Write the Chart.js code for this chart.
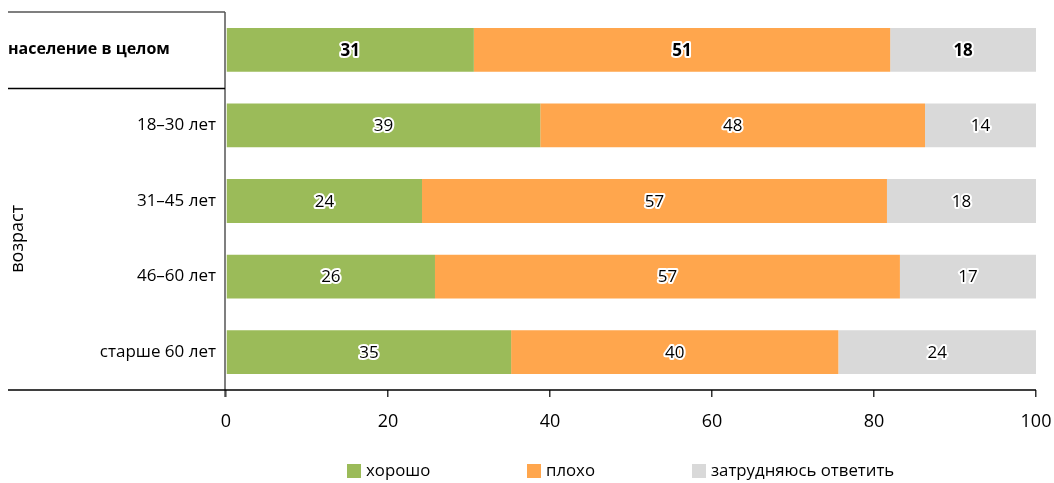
<!DOCTYPE html>
<html><head><meta charset="utf-8">
<script src="https://cdn.jsdelivr.net/npm/chart.js@4"></script>
<style>html,body{margin:0;padding:0;background:#fff}#wrap{width:1054px;height:483px}</style>
</head><body><div id="wrap"><canvas id="c" width="1054" height="483"></canvas></div>
<script>
const categories = ['население в целом', '18–30 лет', '31–45 лет', '46–60 лет', 'старше 60 лет'];
const seriesNames = ['хорошо', 'плохо', 'затрудняюсь ответить'];
const good = [30.6, 38.8, 24.2, 25.8, 35.2];
const bad = [51.4, 47.5, 57.4, 57.4, 40.4];
const hard = [18.0, 13.7, 18.4, 16.8, 24.4];
const groupLabel = 'возраст';
const xTicks = [0, 20, 40, 60, 80, 100];

const FONT = '"Open Sans", "Noto Sans", sans-serif';
const colors = ['#9BBB59', '#FFA64D', '#D9D9D9'];

const overlay = {
  id: 'overlay',
  afterDatasetsDraw(chart) {
    const ctx = chart.ctx;
    ctx.save();
    chart.data.datasets.forEach((ds, di) => {
      const meta = chart.getDatasetMeta(di);
      meta.data.forEach((el, i) => {
        const v = ds.data[i];
        const cx = (el.x + el.base) / 2;
        ctx.font = (i === 0 ? 'bold ' : '500 ') + '17px ' + FONT;
        ctx.textAlign = 'center';
        ctx.textBaseline = 'middle';
        ctx.lineJoin = 'round';
        ctx.lineWidth = 4;
        ctx.strokeStyle = '#fff';
        const t = String(Math.round(v));
        ctx.strokeText(t, cx, el.y + 1);
        ctx.fillStyle = '#000';
        ctx.fillText(t, cx, el.y + 1);
      });
    });
    ctx.restore();
  },
  afterDraw(chart) {
    const ctx = chart.ctx;
    const ya = chart.scales.y;
    const area = chart.chartArea;
    const leftX = 8;
    ctx.save();
    categories.forEach((c, i) => {
      const y = ya.getPixelForValue(i);
      ctx.fillStyle = '#000';
      ctx.textBaseline = 'middle';
      if (i === 0) {
        ctx.font = 'bold 16px ' + FONT;
        ctx.textAlign = 'left';
        ctx.fillText(c, leftX, y);
      } else {
        ctx.font = '500 17px ' + FONT;
        ctx.textAlign = 'right';
        ctx.fillText(c, area.left - 10, y);
      }
    });
    const gy = (ya.getPixelForValue(0.5) + area.bottom) / 2;
    ctx.translate(18, gy);
    ctx.rotate(-Math.PI / 2);
    ctx.font = '500 18px ' + FONT;
    ctx.textAlign = 'center';
    ctx.textBaseline = 'middle';
    ctx.fillText(groupLabel, 0, 0);
    ctx.setTransform(1, 0, 0, 1, 0, 0);
    const axisX = area.left - 1;
    ctx.strokeStyle = '#555';
    ctx.lineWidth = 1.5;
    ctx.beginPath();
    ctx.moveTo(leftX, area.top);
    ctx.lineTo(axisX, area.top);
    ctx.moveTo(axisX, area.top);
    ctx.lineTo(axisX, area.bottom + 7);
    ctx.stroke();
    ctx.strokeStyle = '#000';
    ctx.beginPath();
    const sep = Math.round(ya.getPixelForValue(0.5)) + 0.5;
    ctx.moveTo(leftX, sep);
    ctx.lineTo(axisX, sep);
    ctx.moveTo(leftX, area.bottom);
    ctx.lineTo(area.right, area.bottom);
    ctx.stroke();
    const lx = [347, 527, 692];
    const ly = 471;
    ctx.font = '500 16.8px ' + FONT;
    ctx.textAlign = 'left';
    ctx.textBaseline = 'middle';
    chart.data.datasets.forEach((ds, i) => {
      ctx.fillStyle = ds.backgroundColor;
      ctx.fillRect(lx[i], ly - 7, 14, 14);
      ctx.fillStyle = '#000';
      ctx.fillText(ds.label, lx[i] + 19, ly);
    });
    ctx.restore();
  }
};

new Chart(document.getElementById('c'), {
  type: 'bar',
  data: {
    labels: categories,
    datasets: [
      { label: seriesNames[0], data: good, backgroundColor: colors[0] },
      { label: seriesNames[1], data: bad, backgroundColor: colors[1] },
      { label: seriesNames[2], data: hard, backgroundColor: colors[2] }
    ]
  },
  options: {
    indexAxis: 'y',
    responsive: false,
    animation: false,
    devicePixelRatio: 1,
    layout: { padding: { left: 226, right: 18, top: 12, bottom: 0 } },
    datasets: { bar: { categoryPercentage: 0.58, barPercentage: 1, borderWidth: 0 } },
    plugins: { legend: { display: false }, tooltip: { enabled: false } },
    scales: {
      x: {
        stacked: true, min: 0, max: 100,
        afterBuildTicks: s => { s.ticks = xTicks.map(v => ({ value: v })); },
        afterFit: s => { s.height = 93; s.paddingLeft = 0; s.paddingRight = 0; },
        grid: { drawOnChartArea: false, drawTicks: true, tickLength: 7, color: '#333', lineWidth: 1.5 },
        border: { display: false },
        ticks: { padding: 14, color: '#000', font: { family: FONT, size: 18, weight: '500' } }
      },
      y: { stacked: true, display: false }
    }
  },
  plugins: [overlay]
});
</script></body></html>
